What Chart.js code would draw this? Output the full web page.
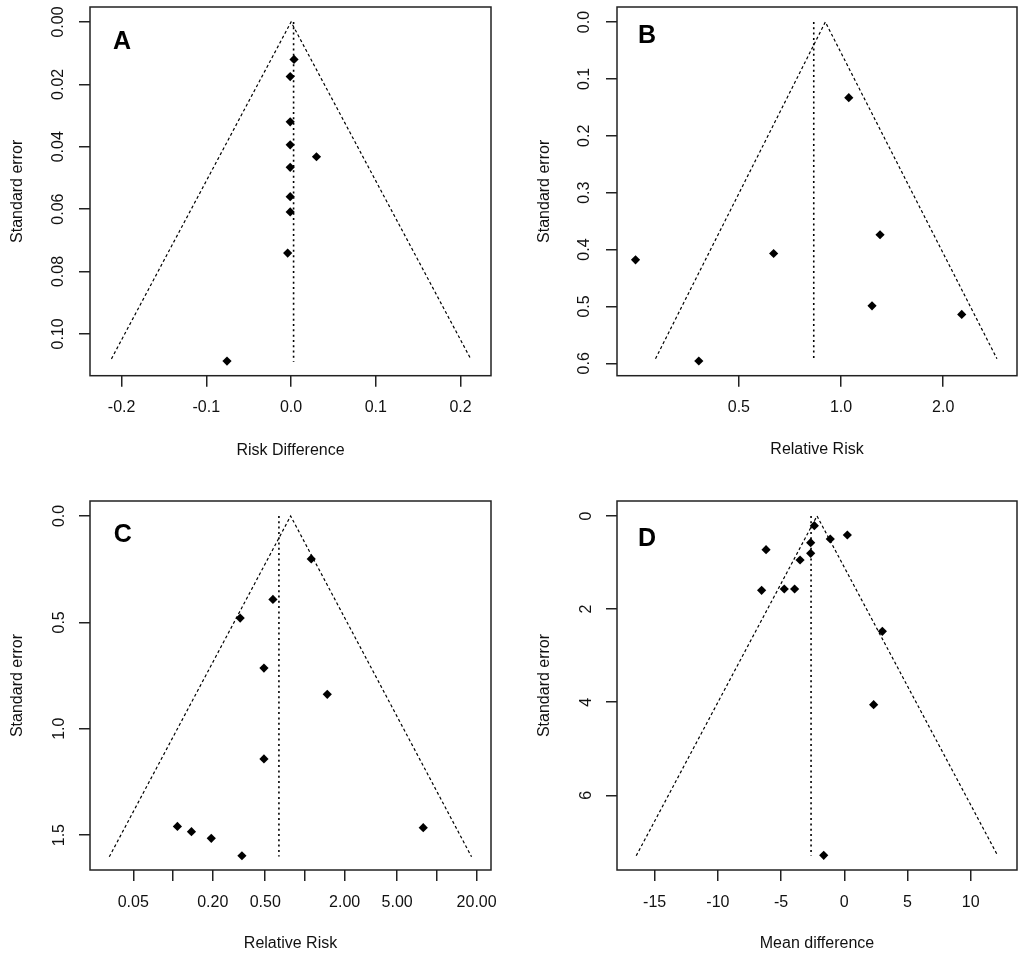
<!DOCTYPE html>
<html>
<head>
<meta charset="utf-8">
<script src="https://cdn.jsdelivr.net/npm/chart.js@4.4.1/dist/chart.umd.min.js"></script>
<style>
  html, body { margin: 0; padding: 0; background: #fff; }
  body { width: 1024px; height: 961px; position: relative; overflow: hidden; }
  canvas { position: absolute; }
</style>
</head>
<body>
<canvas id="panelA" width="512" height="480" style="left:0;top:0"></canvas>
<canvas id="panelB" width="512" height="480" style="left:512px;top:0"></canvas>
<canvas id="panelC" width="512" height="481" style="left:0;top:480px"></canvas>
<canvas id="panelD" width="512" height="481" style="left:512px;top:480px"></canvas>
<script>
// A - risk difference
const aRiskDiff = [0.0035, -0.001, -0.001, -0.001, 0.030, -0.001, -0.001, -0.001, -0.004, -0.0756];
const aSE = [0.0120, 0.0175, 0.0320, 0.0394, 0.0432, 0.0466, 0.0560, 0.0609, 0.0741, 0.1087];
const aFunnelX = [-0.212, 0.0, 0.212];
const aFunnelSE = [0.108, 0, 0.108];
const aPooled = 0.003;
const aPooledSE = [0, 0.109];
const aXTicks = [-0.2, -0.1, 0, 0.1, 0.2];
const aXLabels = ['-0.2', '-0.1', '0.0', '0.1', '0.2'];
const aYTicks = [0, 0.02, 0.04, 0.06, 0.08, 0.10];
const aYLabels = ['0.00', '0.02', '0.04', '0.06', '0.08', '0.10'];

// B - relative risk
const bRR = [1.054, 1.303, 0.248, 0.633, 1.234, 2.268, 0.381];
const bSE = [0.133, 0.374, 0.418, 0.407, 0.499, 0.514, 0.596];
const bFunnelX = [0.284, 0.899, 2.88];
const bFunnelSE = [0.592, 0, 0.592];
const bPooled = 0.831;
const bPooledSE = [0, 0.596];
const bXTicks = [0.5, 1.0, 2.0];
const bXLabels = ['0.5', '1.0', '2.0'];
const bYTicks = [0, 0.1, 0.2, 0.3, 0.4, 0.5, 0.6];
const bYLabels = ['0.0', '0.1', '0.2', '0.3', '0.4', '0.5', '0.6'];

// C - relative risk
const cRR = [1.116, 0.572, 0.323, 0.489, 1.476, 0.489, 0.108, 0.138, 0.195, 0.333, 7.88];
const cSE = [0.202, 0.392, 0.480, 0.715, 0.838, 1.142, 1.459, 1.484, 1.515, 1.597, 1.465];
const cFunnelX = [0.0329, 0.779, 18.3];
const cFunnelSE = [1.602, 0, 1.602];
const cPooled = 0.635;
const cPooledSE = [0, 1.60];
const cXTicks = [0.05, 0.1, 0.2, 0.5, 1, 2, 5, 10, 20];
const cXLabels = ['0.05', '', '0.20', '0.50', '', '2.00', '5.00', '', '20.00'];
const cYTicks = [0, 0.5, 1.0, 1.5];
const cYLabels = ['0.0', '0.5', '1.0', '1.5'];

// D - mean difference
const dMD = [-2.37, 0.24, -1.11, -2.66, -6.19, -2.66, -3.50, -6.54, -4.75, -3.93, 3.01, 2.32, -1.63];
const dSE = [0.208, 0.408, 0.494, 0.573, 0.723, 0.802, 0.945, 1.597, 1.568, 1.568, 2.478, 4.053, 7.29];
const dFunnelX = [-16.46, -2.16, 12.14];
const dFunnelSE = [7.3, 0, 7.3];
const dPooled = -2.63;
const dPooledSE = [0, 7.3];
const dXTicks = [-15, -10, -5, 0, 5, 10];
const dXLabels = ['-15', '-10', '-5', '0', '5', '10'];
const dYTicks = [0, 2, 4, 6];
const dYLabels = ['0', '2', '4', '6'];

Chart.defaults.font.family = '"Liberation Sans", Arial, sans-serif';
Chart.defaults.font.size = 16;
Chart.defaults.color = '#111';

// box around the plot region + panel letter
const frame = {
  id: 'frame',
  afterDraw(chart, args, opts) {
    const { ctx, chartArea: a } = chart;
    ctx.save();
    ctx.strokeStyle = '#222';
    ctx.lineWidth = 1.5;
    ctx.strokeRect(a.left, a.top, a.right - a.left, a.bottom - a.top);
    ctx.font = 'bold 25px "Liberation Sans", Arial, sans-serif';
    ctx.fillStyle = '#000';
    ctx.textAlign = 'center';
    ctx.textBaseline = 'middle';
    ctx.fillText(opts.letter, a.left + opts.dx, a.top + opts.dy);
    ctx.restore();
  }
};

const tickGrid = { drawOnChartArea: false, drawTicks: true, tickLength: 11, color: '#222', lineWidth: 1.5 };

function funnelPlot(id, p) {
  const pts = p.x.map((x, i) => ({ x, y: p.se[i] }));
  const funnel = p.funnelX.map((x, i) => ({ x, y: p.funnelSE[i] }));
  const pooled = p.pooledSE.map(y => ({ x: p.pooled, y }));

  new Chart(document.getElementById(id), {
    type: 'scatter',
    data: {
      datasets: [
        { data: pts, pointStyle: 'rectRot', pointRadius: 4.6, backgroundColor: '#000', borderWidth: 0 },
        { type: 'line', data: funnel, borderColor: '#000', borderWidth: 1.2, borderDash: [3, 2.5], pointRadius: 0, fill: false },
        { type: 'line', data: pooled, borderColor: '#000', borderWidth: 1.6, borderDash: [2, 3.3], pointRadius: 0, fill: false }
      ]
    },
    options: {
      responsive: false,
      animation: false,
      events: [],
      layout: { autoPadding: false, padding: { left: 0, top: p.top, right: p.right, bottom: 0 } },
      plugins: {
        legend: { display: false },
        tooltip: { enabled: false },
        frame: { letter: p.letter, dx: p.letterDx, dy: p.letterDy }
      },
      scales: {
        x: {
          type: p.xType,
          min: p.xMin,
          max: p.xMax,
          afterBuildTicks: s => { s.ticks = p.xTicks.map(value => ({ value })); },
          afterFit: s => { s.height = p.xAxisH; s.paddingLeft = 0; s.paddingRight = 0; },
          ticks: { autoSkip: false, minRotation: 0, maxRotation: 0, padding: 11.5, callback: (v, i) => p.xLabels[i] },
          grid: tickGrid,
          border: { display: false },
          title: { display: true, text: p.xTitle, padding: { top: 0, bottom: p.xTitlePad } }
        },
        y: {
          type: 'linear',
          reverse: true,
          min: p.yMin,
          max: p.yMax,
          afterBuildTicks: s => { s.ticks = p.yTicks.map(value => ({ value })); },
          afterFit: s => { s.width = p.yAxisW; s.paddingTop = 0; s.paddingBottom = 0; },
          ticks: { autoSkip: false, minRotation: 90, maxRotation: 90, crossAlign: 'center', padding: p.yTickPad, callback: (v, i) => p.yLabels[i] },
          grid: tickGrid,
          border: { display: false },
          title: { display: true, text: 'Standard error', padding: { top: p.yTitlePad, bottom: 0 } }
        }
      }
    },
    plugins: [frame]
  });
}

funnelPlot('panelA', {
  letter: 'A', letterDx: 32, letterDy: 35,
  x: aRiskDiff, se: aSE, funnelX: aFunnelX, funnelSE: aFunnelSE, pooled: aPooled, pooledSE: aPooledSE,
  xType: 'linear', xMin: -0.2373, xMax: 0.236, xTicks: aXTicks, xLabels: aXLabels, xTitle: 'Risk Difference',
  yMin: -0.0048, yMax: 0.1134, yTicks: aYTicks, yLabels: aYLabels,
  top: 7, right: 21, yAxisW: 90, xAxisH: 104.3, xTitlePad: 19.7, yTitlePad: 8, yTickPad: 4.7
});

funnelPlot('panelB', {
  letter: 'B', letterDx: 30, letterDy: 29,
  x: bRR, se: bSE, funnelX: bFunnelX, funnelSE: bFunnelSE, pooled: bPooled, pooledSE: bPooledSE,
  xType: 'logarithmic', xMin: 0.2187, xMax: 3.30, xTicks: bXTicks, xLabels: bXLabels, xTitle: 'Relative Risk',
  yMin: -0.0264, yMax: 0.6218, yTicks: bYTicks, yLabels: bYLabels,
  top: 7, right: 7, yAxisW: 105, xAxisH: 104.3, xTitlePad: 20.4, yTitlePad: 22.6, yTickPad: 10.4
});

funnelPlot('panelC', {
  letter: 'C', letterDx: 32.7, letterDy: 34.3,
  x: cRR, se: cSE, funnelX: cFunnelX, funnelSE: cFunnelSE, pooled: cPooled, pooledSE: cPooledSE,
  xType: 'logarithmic', xMin: 0.0235, xMax: 25.7, xTicks: cXTicks, xLabels: cXLabels, xTitle: 'Relative Risk',
  yMin: -0.0705, yMax: 1.664, yTicks: cYTicks, yLabels: cYLabels,
  top: 21, right: 21, yAxisW: 90, xAxisH: 91, xTitlePad: 7.4, yTitlePad: 8, yTickPad: 7.9
});

funnelPlot('panelD', {
  letter: 'D', letterDx: 30, letterDy: 38,
  x: dMD, se: dSE, funnelX: dFunnelX, funnelSE: dFunnelSE, pooled: dPooled, pooledSE: dPooledSE,
  xType: 'linear', xMin: -17.98, xMax: 13.66, xTicks: dXTicks, xLabels: dXLabels, xTitle: 'Mean difference',
  yMin: -0.322, yMax: 7.605, yTicks: dYTicks, yLabels: dYLabels,
  top: 21, right: 7, yAxisW: 105, xAxisH: 91, xTitlePad: 7.4, yTitlePad: 22.6, yTickPad: 15.3
});
</script>
</body>
</html>
